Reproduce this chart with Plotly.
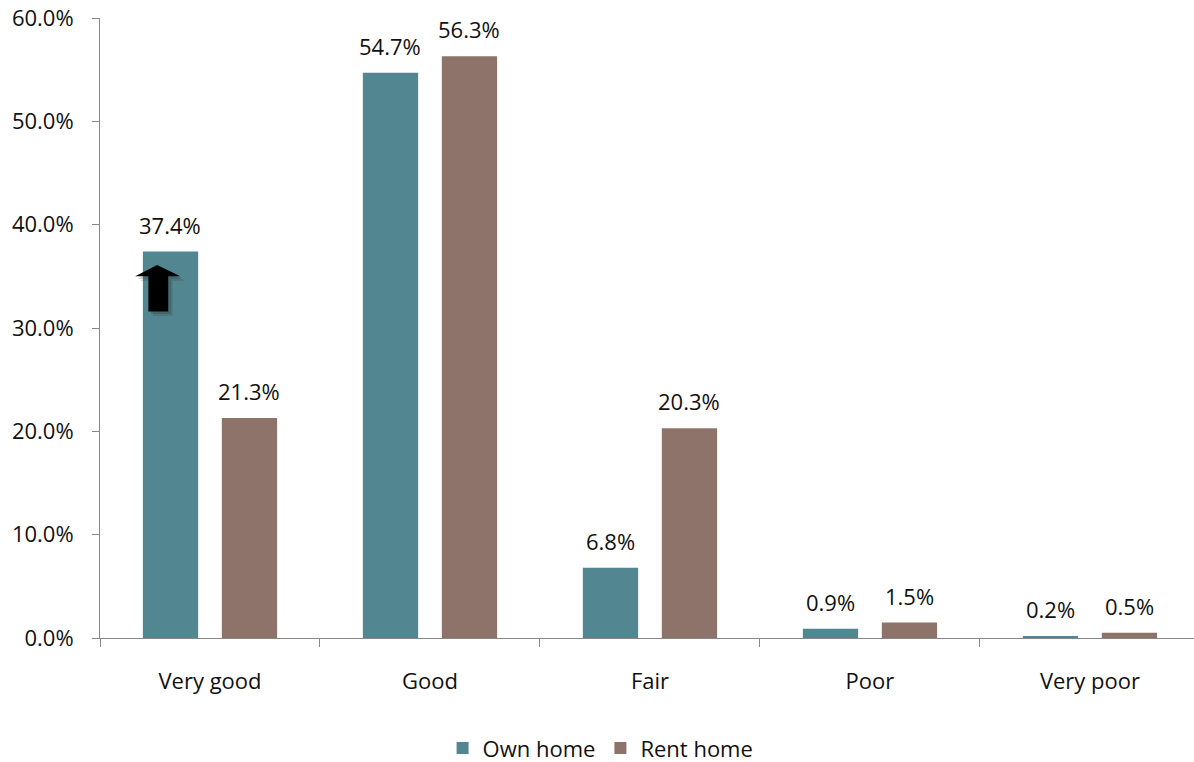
import plotly.graph_objects as go

# Self-rated health by housing tenure (% of respondents)
categories = ["Very good", "Good", "Fair", "Poor", "Very poor"]
own_home = [37.4, 54.7, 6.8, 0.9, 0.2]
rent_home = [21.3, 56.3, 20.3, 1.5, 0.5]
y_ticks = [0, 10, 20, 30, 40, 50, 60]

OWN_COLOR = "#528791"
RENT_COLOR = "#8D7369"
AXIS_COLOR = "#878787"
FONT = dict(family="Open Sans", size=22, color="#111111")

fig = go.Figure()
fig.add_trace(go.Bar(name="Own home", x=categories, y=own_home,
                     marker=dict(color=OWN_COLOR, line=dict(width=0))))
fig.add_trace(go.Bar(name="Rent home", x=categories, y=rent_home,
                     marker=dict(color=RENT_COLOR, line=dict(width=0))))

# value labels above each bar
bar_offset_px = 39.5
for series, shift in ((own_home, -bar_offset_px), (rent_home, bar_offset_px)):
    for cat, val in zip(categories, series):
        fig.add_annotation(x=cat, y=val, text=f"{val:.1f}%", showarrow=False,
                           xshift=shift, yshift=10, yanchor="bottom",
                           font=FONT)

# up-arrow marker on the "Very good" own-home bar
def arrow_path(dx=0.0, dy=0.0):
    pts = [(-0.28, 31.6), (-0.28, 35.0), (-0.34, 35.0), (-0.24, 36.1),
           (-0.135, 35.0), (-0.19, 35.0), (-0.19, 31.6)]
    return "M " + " L ".join(f"{x + dx},{y + dy}" for x, y in pts) + " Z"

for dx, dy, op in ((0.02, -0.45, 0.18), (0.012, -0.25, 0.25)):
    fig.add_shape(type="path", path=arrow_path(dx, dy), xref="x", yref="y",
                  fillcolor="#333333", opacity=op, line=dict(width=0))
fig.add_shape(type="path", path=arrow_path(), xref="x", yref="y",
              fillcolor="#000000", line=dict(width=0))

fig.update_layout(
    width=1194, height=762,
    margin=dict(l=100, r=0, t=18, b=124),
    paper_bgcolor="white", plot_bgcolor="white",
    font=FONT,
    barmode="group", bargap=0.282, bargroupgap=0.30,
    showlegend=True,
    legend=dict(orientation="h", xref="container", yref="container",
                x=0.503, y=0.018, xanchor="center", yanchor="middle",
                font=FONT, itemwidth=30, traceorder="normal"),
)
fig.update_xaxes(
    range=[-0.5, 4.473],
    showline=True, linecolor=AXIS_COLOR, linewidth=1,
    ticks="outside", tickson="boundaries", ticklen=8, tickcolor=AXIS_COLOR,
    showgrid=False, ticklabelstandoff=24, tickfont=FONT,
)
fig.update_yaxes(
    range=[0, 60], tickvals=y_ticks,
    ticktext=[f"{v:.1f}%" for v in y_ticks],
    showline=True, linecolor=AXIS_COLOR, linewidth=1,
    ticks="outside", ticklen=7, tickcolor=AXIS_COLOR,
    showgrid=False, zeroline=False, ticklabelstandoff=14, tickfont=FONT,
)

fig.write_html("out.html")
